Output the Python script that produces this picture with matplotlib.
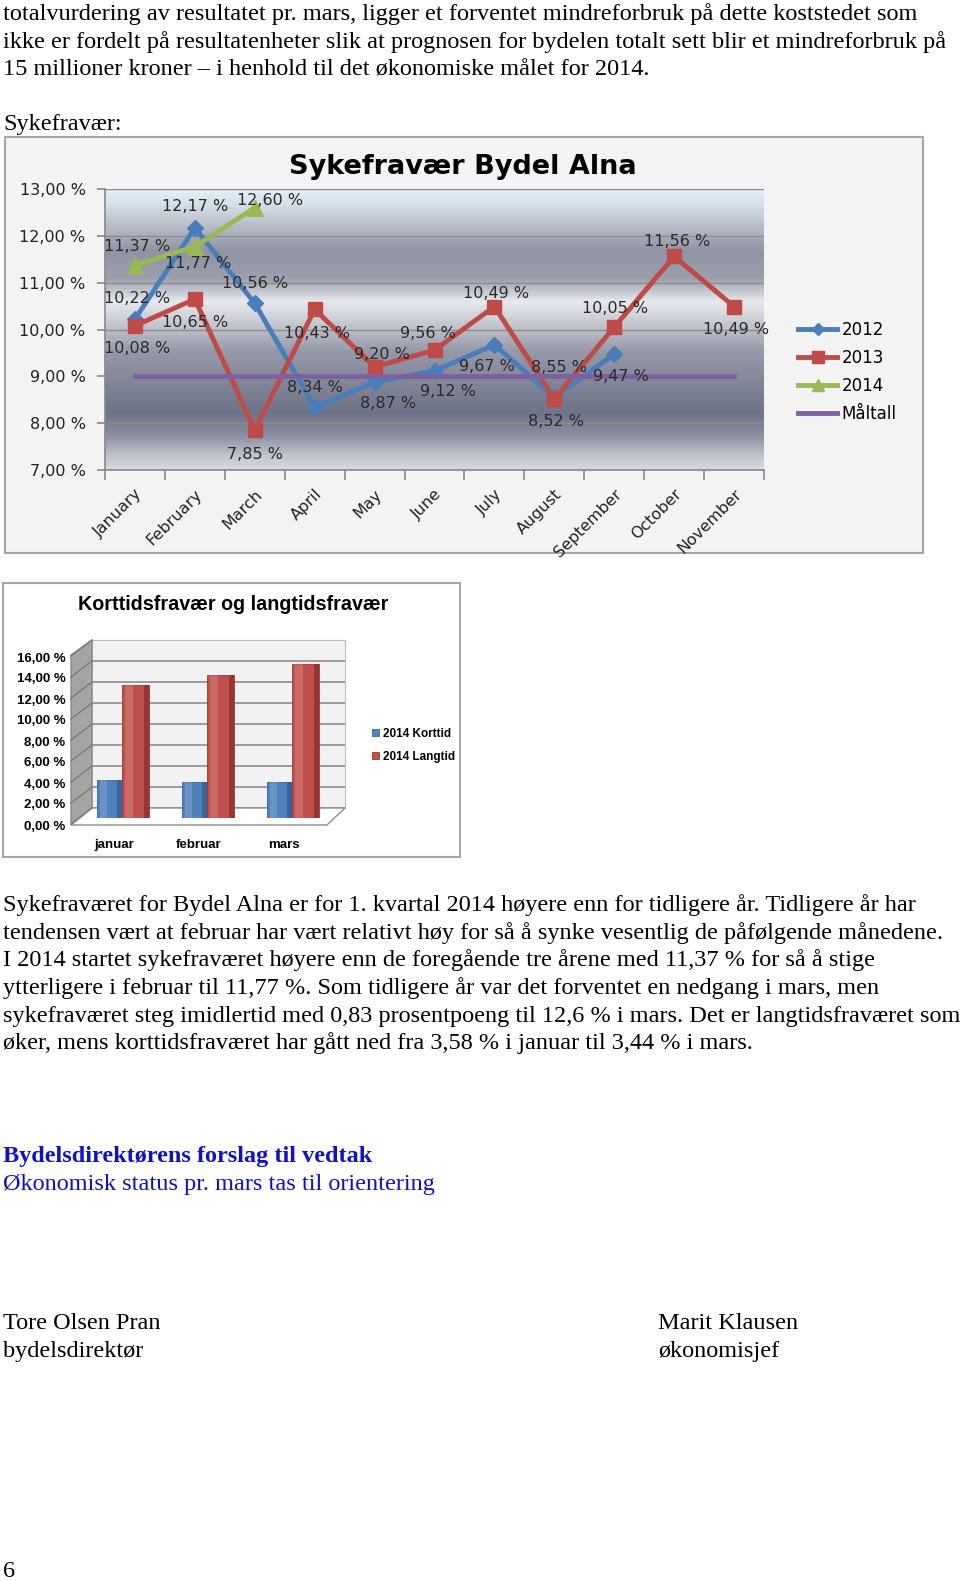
import matplotlib.pyplot as plt
import matplotlib.patches as mpatches
from matplotlib.lines import Line2D
from matplotlib.colors import LinearSegmentedColormap
import numpy as np

W, H = 960, 1581

# chart 1 data
months = ['January', 'February', 'March', 'April', 'May', 'June', 'July',
          'August', 'September', 'October', 'November']
sf_2012 = [10.22, 12.17, 10.56, 8.34, 8.87, 9.12, 9.67, 8.55, 9.47]
sf_2013 = [10.08, 10.65, 7.85, 10.43, 9.20, 9.56, 10.49, 8.52, 10.05, 11.56, 10.49]
sf_2014 = [11.37, 11.77, 12.60]
maltall = [9.0] * 11

# chart 2 data
maaneder = ['januar', 'februar', 'mars']
korttid = [3.58, 3.45, 3.44]
langtid = [12.7, 13.6, 14.7]

# label offsets in pixels (dx right, dy down)
off_2012 = [(2, -21), (0, -21), (0, -20), (0, -20), (13, 21), (13, 21), (-7, 22), (5, -30), (7, 22)]
off_2013 = [(2, 23), (0, 23), (0, 24), (2, 24), (7, -12), (-7, -17), (2, -13), (2, 23), (1, -19), (3, -15), (2, 23)]
off_2014 = [(2, -19), (3, 17), (15, -7)]

C12, C13, C14, CM = '#4a7ebb', '#be4b48', '#98b954', '#7d60a0'


def pct(v):
    return f"{v:.2f}".replace('.', ',') + ' %'


def px_axes(fig, x0, y0, x1, y1):
    return fig.add_axes([x0 / W, 1 - y1 / H, (x1 - x0) / W, (y1 - y0) / H])


def px(x, y):
    return (x / W, 1 - y / H)


fig = plt.figure(figsize=(W / 100, H / 100), dpi=100)
fig.patch.set_facecolor('white')

# ---- body text ----
serif = 'Liberation Serif'
fs = 17.5
top_lines = [
    "totalvurdering av resultatet pr. mars, ligger et forventet mindreforbruk på dette koststedet som",
    "ikke er fordelt på resultatenheter slik at prognosen for bydelen totalt sett blir et mindreforbruk på",
    "15 millioner kroner – i henhold til det økonomiske målet for 2014.",
]
for i, line in enumerate(top_lines):
    fig.text(*px(3, 20 + 27.6 * i), line, family=serif, size=fs, va='baseline')
fig.text(*px(3, 130), "Sykefravær:", family=serif, size=fs, va='baseline')

para = [
    "Sykefraværet for Bydel Alna er for 1. kvartal 2014 høyere enn for tidligere år. Tidligere år har",
    "tendensen vært at februar har vært relativt høy for så å synke vesentlig de påfølgende månedene.",
    "I 2014 startet sykefraværet høyere enn de foregående tre årene med 11,37 % for så å stige",
    "ytterligere i februar til 11,77 %. Som tidligere år var det forventet en nedgang i mars, men",
    "sykefraværet steg imidlertid med 0,83 prosentpoeng til 12,6 % i mars. Det er langtidsfraværet som",
    "øker, mens korttidsfraværet har gått ned fra 3,58 % i januar til 3,44 % i mars.",
]
for i, line in enumerate(para):
    fig.text(*px(3, 911 + 27.7 * i), line, family=serif, size=fs, va='baseline')

fig.text(*px(3, 1162), "Bydelsdirektørens forslag til vedtak", family=serif, size=fs,
         weight='bold', color='#1010c8', va='baseline')
fig.text(*px(3, 1190), "Økonomisk status pr. mars tas til orientering", family=serif, size=fs,
         color='#1010c8', va='baseline')
fig.text(*px(3, 1329), "Tore Olsen Pran", family=serif, size=fs, va='baseline')
fig.text(*px(3, 1357), "bydelsdirektør", family=serif, size=fs, va='baseline')
fig.text(*px(658, 1329), "Marit Klausen", family=serif, size=fs, va='baseline')
fig.text(*px(658, 1357), "økonomisjef", family=serif, size=fs, va='baseline')
fig.text(*px(3, 1577), "6", family=serif, size=fs, va='baseline')

# ---- chart 1: Sykefravær Bydel Alna ----
fig.patches.append(mpatches.Rectangle(px(5, 553), (923 - 5) / W, (553 - 137) / H,
                                      transform=fig.transFigure, facecolor='#f3f3f3',
                                      edgecolor='#a6a6a6', lw=1.5, zorder=-2))
fig.text(*px(463, 167), "Sykefravær Bydel Alna", size=19.5, weight='bold', ha='center', va='center')

ax1 = px_axes(fig, 105, 189, 764, 470)
metal = LinearSegmentedColormap.from_list('metal', [
    (0.0, '#e2f0f7'), (0.05, '#d6e0e8'), (0.15, '#b0b4c0'), (0.22, '#8e92a2'),
    (0.32, '#9da1ae'), (0.40, '#e8e9ee'), (0.48, '#c5c7d0'), (0.58, '#9598a8'),
    (0.80, '#6f7388'), (0.88, '#8c8fa0'), (0.95, '#c0c2cc'), (1.0, '#d8dae0')])
ax1.imshow(np.linspace(0, 1, 300).reshape(-1, 1), extent=[0, 11, 7, 13], aspect='auto',
           cmap=metal, zorder=0, interpolation='bilinear')
ax1.set_xlim(0, 11)
ax1.set_ylim(7, 13)
ax1.set_yticks(range(7, 14))
ax1.set_yticklabels([pct(v) for v in range(7, 14)])
ax1.yaxis.grid(True, color='#8c8c8c', lw=1)
ax1.set_xticks(range(12))
ax1.set_xticklabels([])
ax1.set_xticks(np.arange(11) + 0.5, minor=True)
ax1.set_xticklabels(months, minor=True, rotation=45, ha='right', rotation_mode='anchor')
ax1.tick_params(axis='x', which='major', length=7, color='#888888', width=1.2)
ax1.tick_params(axis='x', which='minor', length=0, pad=12, labelsize=11.5, labelcolor='#222222')
ax1.tick_params(axis='y', length=6, color='#888888', width=1.2, labelsize=11.5, pad=8,
                labelcolor='#222222')
for s in ['top', 'right']:
    ax1.spines[s].set_visible(False)
for s in ['left', 'bottom']:
    ax1.spines[s].set_color('#888888')
    ax1.spines[s].set_linewidth(1.2)

xs = np.arange(11) + 0.5
l12, = ax1.plot(xs[:len(sf_2012)], sf_2012, color=C12, lw=3.5, marker='D', ms=8, zorder=4, label='2012')
l13, = ax1.plot(xs[:len(sf_2013)], sf_2013, color=C13, lw=3.5, marker='s', ms=10, zorder=5, label='2013')
l14, = ax1.plot(xs[:len(sf_2014)], sf_2014, color=C14, lw=3.5, marker='^', ms=11, zorder=6, label='2014')
lm, = ax1.plot(xs, maltall, color=CM, lw=3.5, zorder=7, label='Måltall')

for series, offs in [(sf_2012, off_2012), (sf_2013, off_2013), (sf_2014, off_2014)]:
    for xi, v, (dx, dy) in zip(xs, series, offs):
        ax1.annotate(pct(v), (xi, v), xytext=(dx, -dy), textcoords='offset pixels',
                     ha='center', va='center', fontsize=11.5, color='#2a2a2a', zorder=8)

leg1 = ax1.legend(handles=[l12, l13, l14, lm], loc='upper left',
                  bbox_to_anchor=px(790, 313), bbox_transform=fig.transFigure,
                  frameon=False, fontsize=12, handlelength=2.3, handletextpad=0.3,
                  labelspacing=0.6, borderpad=0, markerscale=0.8)

# ---- chart 2: Korttidsfravær og langtidsfravær ----
fig.patches.append(mpatches.Rectangle(px(3, 857), (460 - 3) / W, (857 - 583) / H,
                                      transform=fig.transFigure, facecolor='white',
                                      edgecolor='#a6a6a6', lw=1.5, zorder=-2))
fig.text(*px(233, 605), "Korttidsfravær og langtidsfravær", size=14.2, weight='bold',
         family='Liberation Sans', ha='center', va='center')

# back wall
axb = px_axes(fig, 92, 640, 345, 808)
axb.set_zorder(-1)
axb.set_facecolor('#f2f2f2')
axb.set_ylim(0, 16)
axb.set_yticks(range(0, 17, 2))
axb.yaxis.grid(True, color='#8c8c8c', lw=1.2)
axb.tick_params(length=0, labelleft=False, labelbottom=False)
axb.set_xticks([])
for s in axb.spines.values():
    s.set_color('#bcbcbc')

# side wall + floor
side = [px(71, 655), px(92, 640), px(92, 808), px(71, 825)]
floor = [px(71, 825), px(92, 808), px(345, 808), px(327, 825)]
fig.patches.append(mpatches.Polygon(side, closed=True, transform=fig.transFigure,
                                    facecolor='#a4a4a4', edgecolor='#8c8c8c', lw=1, zorder=-1))
fig.patches.append(mpatches.Polygon(floor, closed=True, transform=fig.transFigure,
                                    facecolor='white', edgecolor='#8c8c8c', lw=1, zorder=-1))
for v in range(0, 17, 2):
    yb = 808 - v / 16 * 168
    fig.add_artist(Line2D([71 / W, 92 / W], [1 - (yb + 16) / H, 1 - yb / H],
                          color='#7a7a7a', lw=1, transform=fig.transFigure, zorder=-0.5))

# bars at mid depth
axm = px_axes(fig, 79.5, 650, 334.5, 818)
axm.set_xlim(-0.5, 2.5)
axm.set_ylim(0, 16)
axm.axis('off')
xk = np.arange(len(maaneder))
bk = axm.bar(xk - 0.147, korttid, 0.294, color='#4f81bd', edgecolor='#3a6496', lw=0.6, label='2014 Korttid')
bl = axm.bar(xk + 0.16, langtid, 0.32, color='#c0504d', edgecolor='#963a37', lw=0.6, label='2014 Langtid')
# shading for a rounded 3D look
axm.bar(xk - 0.03, korttid, 0.06, color='#2c4f7c', alpha=0.55)
axm.bar(xk + 0.29, langtid, 0.06, color='#7a2220', alpha=0.55)
axm.bar(xk - 0.22, korttid, 0.08, color='white', alpha=0.15)
axm.bar(xk + 0.08, langtid, 0.09, color='white', alpha=0.15)

# front plane for labels
axf = px_axes(fig, 71, 657, 327, 825)
axf.patch.set_visible(False)
axf.set_xlim(-0.5, 2.5)
axf.set_ylim(0, 16)
for s in axf.spines.values():
    s.set_visible(False)
axf.set_yticks(range(0, 17, 2))
axf.set_yticklabels([pct(v) for v in range(0, 17, 2)])
axf.set_xticks(xk)
axf.set_xticklabels(maaneder)
axf.tick_params(length=0, labelsize=9.5, pad=4)
axf.tick_params(axis='x', pad=10)
for t in axf.get_yticklabels() + axf.get_xticklabels():
    t.set_fontweight('bold')
    t.set_family('Liberation Sans')

axm.legend(handles=[bk, bl], loc='upper left', bbox_to_anchor=px(366, 722),
           bbox_transform=fig.transFigure, frameon=False,
           prop={'size': 8.5, 'weight': 'bold', 'family': 'Liberation Sans'},
           handlelength=0.6, handleheight=0.6, handletextpad=0.3, labelspacing=0.9, borderpad=0)

fig.savefig('out.png', dpi=100)
